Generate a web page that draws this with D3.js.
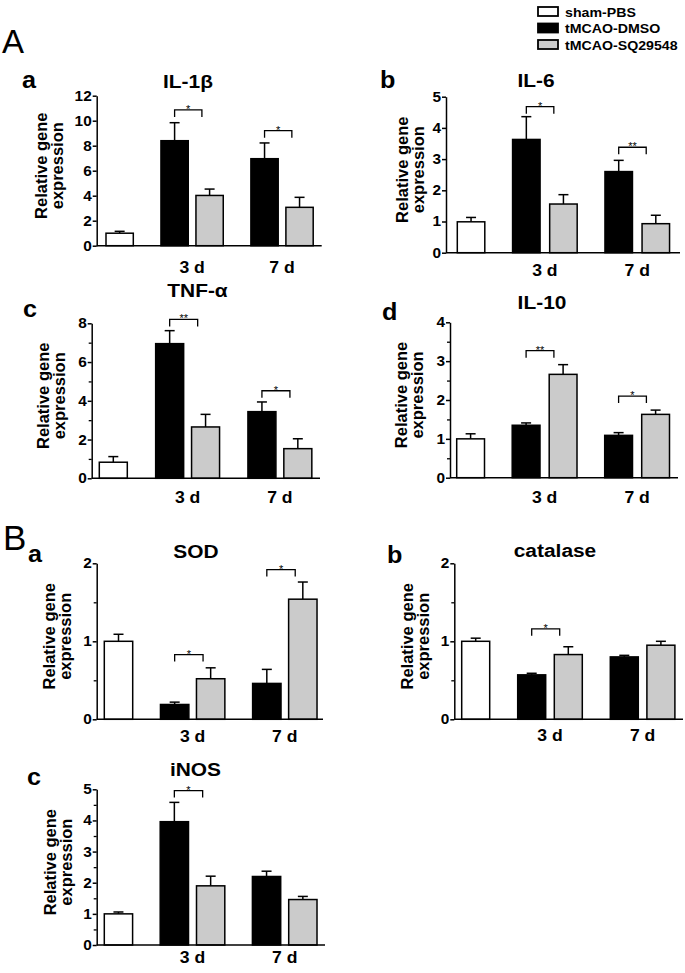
<!DOCTYPE html>
<html>
<head>
<meta charset="utf-8">
<script src="https://cdn.jsdelivr.net/npm/d3@7"></script>
<style>
  body { margin: 0; background: #fff; }
  svg text { font-family: "Liberation Sans", Arial, Helvetica, sans-serif; fill: #000; }
</style>
</head>
<body>
<svg id="chart" width="685" height="973"></svg>
<script>
// ---- data ----
var groups = ["3 d", "7 d"];
var series = ["sham-PBS", "tMCAO-DMSO", "tMCAO-SQ29548"];
var seriesFill = ["#ffffff", "#000000", "#cbcbcb"];
var panelTitles = ["IL-1β", "IL-6", "TNF-α", "IL-10", "SOD", "catalase", "iNOS"];
var panelLetters = ["a", "b", "c", "d", "a", "b", "c"];
var yMax = [12, 5, 8, 4, 2, 2, 5];
var yTickStep = [2, 1, 2, 1, 1, 1, 1];
var yMinorStep = [0, 0, 1, 0.5, 0.5, 0.5, 0.5];
// order: sham, DMSO 3 d, SQ 3 d, DMSO 7 d, SQ 7 d
var means = [
  [1.0, 8.4, 4.02, 6.96, 3.07],
  [0.99, 3.63, 1.56, 2.6, 0.93],
  [0.83, 6.95, 2.65, 3.44, 1.53],
  [1.0, 1.35, 2.66, 1.09, 1.63],
  [1.0, 0.19, 0.52, 0.46, 1.54],
  [1.0, 0.57, 0.83, 0.8, 0.95],
  [1.0, 3.96, 1.9, 2.2, 1.46]
];
var sems = [
  [0.15, 1.44, 0.51, 1.26, 0.8],
  [0.14, 0.73, 0.3, 0.36, 0.27],
  [0.29, 0.67, 0.65, 0.5, 0.51],
  [0.13, 0.06, 0.25, 0.07, 0.11],
  [0.09, 0.03, 0.14, 0.18, 0.22],
  [0.04, 0.02, 0.1, 0.02, 0.05],
  [0.06, 0.62, 0.31, 0.17, 0.1]
];
// significance brackets: [group, stars, height]
var sigs = [
  [["3 d", "*", 10.86], ["7 d", "*", 9.2]],
  [["3 d", "*", 4.68], ["7 d", "**", 3.38]],
  [["3 d", "**", 8.2], ["7 d", "*", 4.52]],
  [["3 d", "**", 3.27], ["7 d", "*", 2.1]],
  [["3 d", "*", 0.83], ["7 d", "*", 1.92]],
  [["3 d", "*", 1.16]],
  [["3 d", "*", 4.96]]
];

// ---- layout (pixels) ----
var layout = [
  {ax: 96.7, top: 95.7, bot: 245.7, xEnd: 321.7, left: 106, step: 35, gap: 0.57, bw: 27.3, tx: 188, ty: 88, lx: 22, ly: 88, xl: 273, yl: [-50, -34]},
  {ax: 446, top: 96.7, bot: 252.7, xEnd: 680, left: 457.3, step: 37.1, gap: 0.49, bw: 27.5, tx: 536, ty: 87, lx: 380, ly: 88, xl: 276, yl: [-38, -22]},
  {ax: 91.7, top: 323.3, bot: 478.3, xEnd: 320, left: 99.3, step: 35.9, gap: 0.57, bw: 28, tx: 197.5, ty: 297, lx: 23, ly: 317, xl: 503, yl: [-43, -27]},
  {ax: 450, top: 322.3, bot: 477.7, xEnd: 678, left: 456.7, step: 37, gap: 0.5, bw: 27.8, tx: 542, ty: 309, lx: 382, ly: 320, xl: 503, yl: [-43, -27]},
  {ax: 96.7, top: 563.3, bot: 719.3, xEnd: 323, left: 104.3, step: 36, gap: 0.56, bw: 28.4, tx: 196, ty: 558, lx: 28, ly: 562, xl: 742, yl: [-42, -26]},
  {ax: 454.3, top: 563.3, bot: 719.3, xEnd: 683, left: 461.7, step: 36.6, gap: 0.53, bw: 28, tx: 555, ty: 557, lx: 387, ly: 563, xl: 741, yl: [-41, -25]},
  {ax: 96.7, top: 789.3, bot: 945, xEnd: 325, left: 104.3, step: 36.3, gap: 0.54, bw: 28.3, tx: 195.5, ty: 776, lx: 27, ly: 785, xl: 963, yl: [-41, -25]}
];

var svg = d3.select("#chart");
var SX = 1.1; // figure text is a bit wide

function wideText(g, x, y, str, size, weight, anchor, sx) {
  return g.append("text")
    .attr("transform", "translate(" + x + "," + y + ") scale(" + (sx || SX) + ",1)")
    .attr("text-anchor", anchor || "middle")
    .style("font-size", size + "px")
    .style("font-weight", weight || "bold")
    .text(str);
}

// big section letters
wideText(svg, 2, 53, "A", 33, "normal", "start", 1.0);
wideText(svg, 3, 550, "B", 35, "normal", "start", 1.0);

// legend
var leg = svg.append("g");
series.forEach(function (s, i) {
  var yy = [7, 23.5, 40][i];
  leg.append("rect").attr("x", 538).attr("y", yy).attr("width", 20).attr("height", 9)
    .attr("fill", seriesFill[i]).attr("stroke", "#000").attr("stroke-width", 1.8);
  wideText(leg, 565, yy + 9.5, s, 13.5, "bold", "start", 1.05);
});

function slotOf(si, gi, gap) {
  if (si === 0) return 0;
  return 1 + gap + gi * (2 + gap) + (si - 1);
}

panelTitles.forEach(function (title, p) {
  var L = layout[p];
  var g = svg.append("g");
  var y = d3.scaleLinear().domain([0, yMax[p]]).range([L.bot, L.top]);
  var x = d3.scaleLinear().domain([0, 1]).range([L.left, L.left + L.step]);

  // rows of bars
  var rows = [{si: 0, gi: -1, v: means[p][0], e: sems[p][0]}];
  groups.forEach(function (gname, gi) {
    [1, 2].forEach(function (si) {
      var k = 1 + gi * 2 + (si - 1);
      rows.push({si: si, gi: gi, v: means[p][k], e: sems[p][k]});
    });
  });
  rows.forEach(function (d) { d.x0 = x(slotOf(d.si, d.gi, L.gap)); d.cx = d.x0 + L.bw / 2; });

  // error bars (upper only)
  var eb = g.selectAll("g.err").data(rows).enter().append("g").attr("class", "err")
    .attr("stroke", "#000").attr("stroke-width", 1.5);
  eb.append("line").attr("x1", function (d) { return d.cx; }).attr("x2", function (d) { return d.cx; })
    .attr("y1", function (d) { return y(d.v); }).attr("y2", function (d) { return y(d.v + d.e); });
  eb.append("line").attr("x1", function (d) { return d.cx - 5; }).attr("x2", function (d) { return d.cx + 5; })
    .attr("y1", function (d) { return y(d.v + d.e); }).attr("y2", function (d) { return y(d.v + d.e); });

  g.selectAll("rect.bar").data(rows).enter().append("rect").attr("class", "bar")
    .attr("x", function (d) { return d.x0; })
    .attr("y", function (d) { return y(d.v); })
    .attr("width", L.bw)
    .attr("height", function (d) { return y(0) - y(d.v); })
    .attr("fill", function (d) { return seriesFill[d.si]; })
    .attr("stroke", "#000").attr("stroke-width", 1.5);

  // y axis
  var ticks = d3.range(0, yMax[p] + 1e-9, yTickStep[p]);
  var yAxis = d3.axisLeft(y).tickValues(ticks).tickSize(4).tickSizeOuter(0).tickPadding(1)
    .tickFormat(d3.format("d"));
  var ya = g.append("g").attr("transform", "translate(" + L.ax + ",0)").call(yAxis);
  ya.attr("font-size", null).attr("font-family", null);
  ya.select(".domain").attr("stroke-width", 1.5);
  ya.selectAll(".tick line").attr("stroke-width", 1.5);
  ya.selectAll(".tick text")
    .attr("x", -5 / 1.1)
    .attr("transform", "scale(1.1,1)")
    .style("font-size", "14px").style("font-weight", "bold");
  if (yMinorStep[p]) {
    var minor = d3.range(0, yMax[p] + 1e-9, yMinorStep[p]).filter(function (v) {
      return Math.abs(v / yTickStep[p] - Math.round(v / yTickStep[p])) > 1e-6;
    });
    var ym = g.append("g").attr("transform", "translate(" + L.ax + ",0)")
      .call(d3.axisLeft(y).tickValues(minor).tickSize(3).tickSizeOuter(0).tickFormat(""));
    ym.select(".domain").remove();
    ym.selectAll(".tick line").attr("stroke-width", 1.3);
  }

  // x axis line
  g.append("line").attr("x1", L.ax).attr("x2", L.xEnd).attr("y1", y(0)).attr("y2", y(0))
    .attr("stroke", "#000").attr("stroke-width", 1.5);

  // group labels
  groups.forEach(function (gname, gi) {
    var c = (x(slotOf(1, gi, L.gap)) + x(slotOf(2, gi, L.gap)) + L.bw) / 2;
    wideText(g, c, L.xl, gname, 16, "bold");
  });

  // significance brackets
  sigs[p].forEach(function (s) {
    var gi = groups.indexOf(s[0]);
    var x1 = x(slotOf(1, gi, L.gap)) + L.bw / 2;
    var x2 = x1 + L.bw;
    var yy = y(s[2]);
    g.append("path").attr("d", "M" + x1 + "," + (yy + 7) + "V" + yy + "H" + x2 + "V" + (yy + 7))
      .attr("fill", "none").attr("stroke", "#000").attr("stroke-width", 1.3);
    g.append("text").attr("x", (x1 + x2) / 2).attr("y", yy + 3).attr("text-anchor", "middle")
      .style("font-size", "11px").text(s[1]);
  });

  // axis title
  var cy = (L.top + L.bot) / 2 - 5;
  ["Relative gene", "expression"].forEach(function (t, i) {
    g.append("text")
      .attr("transform", "translate(" + (L.ax + L.yl[i]) + "," + cy + ") rotate(-90)")
      .attr("text-anchor", "middle")
      .style("font-size", "16.5px").style("font-weight", "bold")
      .text(t);
  });

  wideText(g, L.tx, L.ty, title, 19, "bold");
  wideText(g, L.lx, L.ly, panelLetters[p], 24, "bold", "start", 1.05);
});
</script>
</body>
</html>
